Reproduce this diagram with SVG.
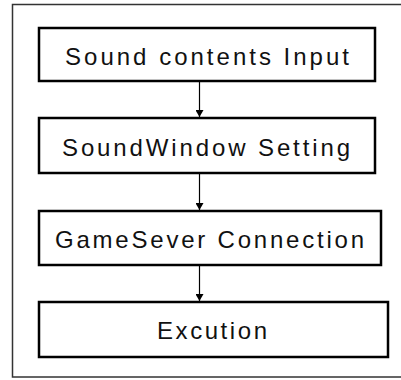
<svg xmlns="http://www.w3.org/2000/svg" width="401" height="380" viewBox="0 0 401 380">
<style>
.box{fill:#fff;stroke:#000;stroke-width:2.5}
.lbl{font-family:"Liberation Sans",Arial,sans-serif;font-size:24px;fill:#111}
.conn{stroke:#000;stroke-width:1.2;fill:none}
</style>
<defs>
<marker id="ah" markerWidth="8" markerHeight="8" refX="7" refY="4" orient="auto" markerUnits="userSpaceOnUse">
<path d="M0,0 L7,4 L0,8 Z" fill="#000"/>
</marker>
</defs>
<rect x="12.5" y="4.5" width="400" height="372.5" fill="#fff" stroke="#333" stroke-width="1.5"/>
<g id="n1"><rect class="box" x="39" y="28" width="336" height="53"/><text class="lbl" x="65" y="65" textLength="284" lengthAdjust="spacing">Sound contents Input</text></g>
<g id="n2"><rect class="box" x="39" y="118" width="336" height="55"/><text class="lbl" x="62" y="156" textLength="288" lengthAdjust="spacing">SoundWindow Setting</text></g>
<g id="n3"><rect class="box" x="39" y="211" width="342" height="54"/><text class="lbl" x="55" y="248" textLength="309" lengthAdjust="spacing">GameSever Connection</text></g>
<g id="n4"><rect class="box" x="39" y="302" width="349" height="55"/><text class="lbl" x="157" y="339" textLength="110" lengthAdjust="spacing">Excution</text></g>
<g id="connectors">
<line class="conn" x1="199.5" y1="82" x2="199.5" y2="117" marker-end="url(#ah)"/>
<line class="conn" x1="199.5" y1="174" x2="199.5" y2="210" marker-end="url(#ah)"/>
<line class="conn" x1="199.5" y1="266" x2="199.5" y2="301" marker-end="url(#ah)"/>
</g>
</svg>
